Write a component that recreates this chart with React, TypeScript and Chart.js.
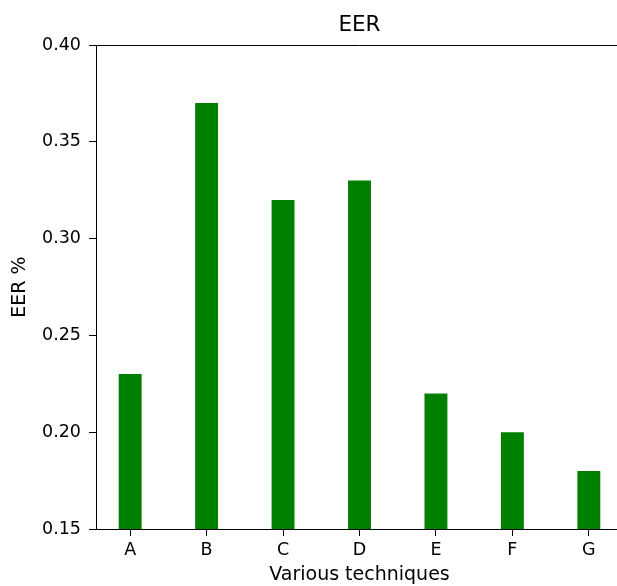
import React, { useEffect, useRef } from 'react';
import { Chart, registerables } from 'chart.js';

Chart.register(...registerables);

const categories = ['A', 'B', 'C', 'D', 'E', 'F', 'G'];
const eerValues = [0.23, 0.37, 0.32, 0.33, 0.22, 0.2, 0.18];
const yMin = 0.15;
const yMax = 0.4;
const yStep = 0.05;
const titleText = 'EER';
const xTitle = 'Various techniques';
const yTitle = 'EER %';

const FONT = "'DejaVu Sans', sans-serif";

export default function App() {
  const ref = useRef<HTMLCanvasElement>(null);

  useEffect(() => {
    if (!ref.current) return;
    const framePlugin = {
      id: 'frame',
      afterDatasetsDraw(chart: any) {
        const { ctx, chartArea: a } = chart;
        ctx.save();
        ctx.strokeStyle = '#000';
        ctx.lineWidth = 1;
        ctx.beginPath();
        ctx.moveTo(a.left, a.top + 0.5);
        ctx.lineTo(a.right, a.top + 0.5);
        ctx.stroke();
        ctx.fillStyle = '#000';
        ctx.font = `21.5px ${FONT}`;
        ctx.textAlign = 'center';
        ctx.textBaseline = 'alphabetic';
        ctx.fillText(titleText, (a.left + a.right) / 2, 31);
        ctx.restore();
      },
    };

    const chart = new Chart(ref.current, {
      type: 'bar',
      data: {
        datasets: [
          {
            label: titleText,
            data: eerValues.map((v, i) => ({ x: i, y: v })),
            backgroundColor: '#008000',
            borderWidth: 0,
            barPercentage: 0.3,
            categoryPercentage: 1,
          },
        ],
      },
      options: {
        responsive: false,
        animation: false,
        devicePixelRatio: 1,
        layout: { padding: { top: 45, right: 7, left: 0, bottom: 0 } },
        plugins: {
          legend: { display: false },
          tooltip: { enabled: false },
          title: { display: false },
        },
        scales: {
          x: {
            type: 'linear',
            offset: false,
            min: -0.447,
            max: 6.447,
            afterBuildTicks: (scale: any) => {
              scale.ticks = categories.map((_, i) => ({ value: i }));
            },
            afterFit: (scale: any) => {
              scale.height = 57;
            },
            ticks: {
              includeBounds: false,
              autoSkip: false,
              maxRotation: 0,
              color: '#000',
              font: { family: FONT, size: 17.5 },
              padding: 4,
              callback: (v: any) => (Number.isInteger(v) ? categories[v] : ''),
            },
            grid: {
              display: true,
              offset: false,
              drawOnChartArea: false,
              drawTicks: true,
              tickLength: 7,
              color: '#000',
              lineWidth: 1,
            },
            border: { display: true, color: '#000', width: 1 },
            title: {
              display: true,
              text: xTitle,
              color: '#000',
              font: { family: FONT, size: 19 },
              padding: 0,
            },
          },
          y: {
            type: 'linear',
            min: yMin,
            max: yMax,
            afterFit: (scale: any) => {
              scale.width = 96;
            },
            ticks: {
              stepSize: yStep,
              color: '#000',
              font: { family: FONT, size: 17.5 },
              padding: 8,
              callback: (v: any) => Number(v).toFixed(2),
            },
            grid: {
              display: true,
              drawOnChartArea: false,
              drawTicks: true,
              tickLength: 7,
              color: '#000',
              lineWidth: 1,
            },
            border: { display: true, color: '#000', width: 1 },
            title: {
              display: true,
              text: yTitle,
              color: '#000',
              font: { family: FONT, size: 19 },
              padding: { top: 8.6, bottom: 0 },
            },
          },
        },
      },
      plugins: [framePlugin],
    });
    return () => chart.destroy();
  }, []);

  return (
    <div
      style={{
        position: 'fixed',
        left: 0,
        top: 0,
        width: 617,
        height: 586,
        overflow: 'hidden',
        background: '#fff',
      }}
    >
      <canvas ref={ref} width={630} height={586} style={{ width: 630, height: 586, display: 'block' }} />
    </div>
  );
}
